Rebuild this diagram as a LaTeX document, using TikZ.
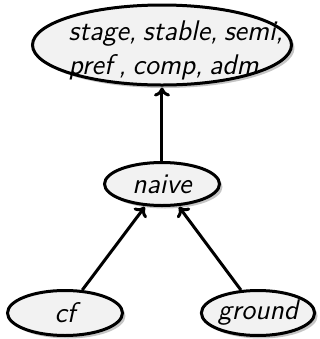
\documentclass[tikz,border=0pt]{standalone}
\usetikzlibrary{shapes.geometric,shadows,arrows.meta}
\newcommand\mynodefont{\fontsize{14.2}{17}\selectfont\sffamily\itshape}
\newcommand\tightsp{\spaceskip=0.22em plus 0.1em\relax}
\begin{document}
\begin{tikzpicture}[x=0.5pt,y=-0.5pt,
  ell/.style={ellipse, draw=black, line width=1.5pt, fill=black!5, inner sep=0pt,
    drop shadow={shadow xshift=1.5pt, shadow yshift=-1.5pt, fill=black!45, opacity=0.5}, font=\mynodefont},
  lbl/.style={inner sep=0pt, align=left, font=\mynodefont},
  arr/.style={-{To[length=4.5pt,width=8pt]}, line width=1.5pt, shorten >=0.5pt}]
\useasboundingbox (0,0) rectangle (320,339);
\node[ell, minimum width=129.5pt, minimum height=40pt] (top) at (162,45) {};
\node[lbl] (toptext) at (176,50) {\tightsp stage, stable, semi,\\\tightsp pref , comp, adm};
\node[ell, minimum width=57.5pt, minimum height=21.5pt] (naive) at (162,184) {naive};
\node[ell, minimum width=57.5pt, minimum height=22.5pt] (cf) at (65,313) {cf};
\node[ell, minimum width=56.5pt, minimum height=22.5pt] (ground) at (258,313) {ground};
\draw[arr] (naive) -- (top);
\draw[arr] (cf) -- (naive);
\draw[arr] (ground) -- (naive);
\end{tikzpicture}
\end{document}
